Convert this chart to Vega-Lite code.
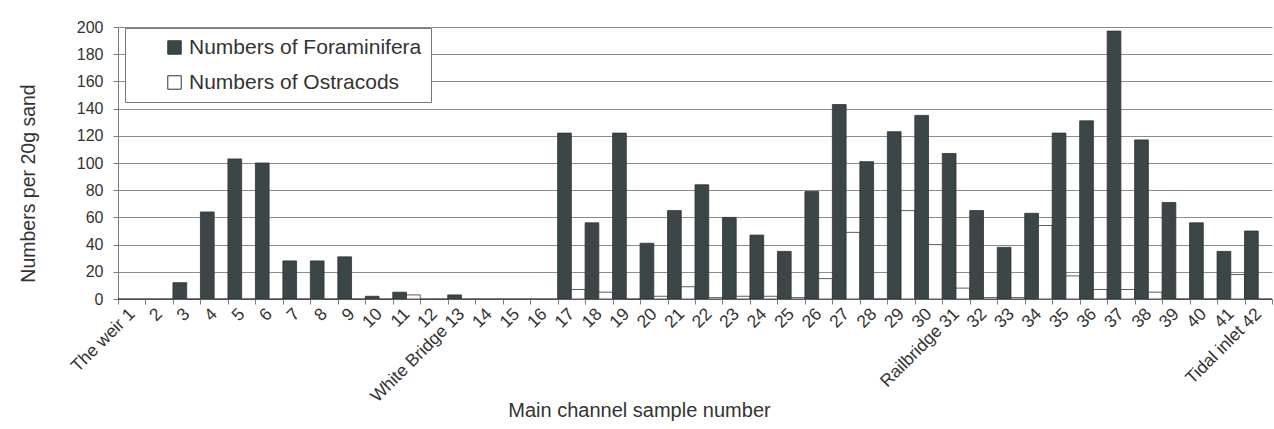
{
  "$schema": "https://vega.github.io/schema/vega-lite/v6.json",
  "autosize": "none",
  "width": 1154,
  "height": 272,
  "padding": {"left": 118, "top": 27, "right": 2, "bottom": 130},
  "background": "white",
  "config": {
    "font": "Liberation Sans",
    "view": {"stroke": null},
    "axis": {
      "labelFont": "Liberation Sans",
      "titleFont": "Liberation Sans",
      "labelColor": "#333333",
      "titleColor": "#333333",
      "titleFontWeight": "normal",
      "domainColor": "#7a7a7a",
      "tickColor": "#7a7a7a",
      "gridColor": "#8c8c8c"
    }
  },
  "data": {
    "values": [
      {"sample": "The weir 1", "Numbers of Foraminifera": 0, "Numbers of Ostracods": 0},
      {"sample": "2", "Numbers of Foraminifera": 0, "Numbers of Ostracods": 0},
      {"sample": "3", "Numbers of Foraminifera": 12, "Numbers of Ostracods": 0},
      {"sample": "4", "Numbers of Foraminifera": 64, "Numbers of Ostracods": 0},
      {"sample": "5", "Numbers of Foraminifera": 103, "Numbers of Ostracods": 0},
      {"sample": "6", "Numbers of Foraminifera": 100, "Numbers of Ostracods": 0},
      {"sample": "7", "Numbers of Foraminifera": 28, "Numbers of Ostracods": 0},
      {"sample": "8", "Numbers of Foraminifera": 28, "Numbers of Ostracods": 0},
      {"sample": "9", "Numbers of Foraminifera": 31, "Numbers of Ostracods": 0},
      {"sample": "10", "Numbers of Foraminifera": 2, "Numbers of Ostracods": 0},
      {"sample": "11", "Numbers of Foraminifera": 5, "Numbers of Ostracods": 3},
      {"sample": "12", "Numbers of Foraminifera": 0, "Numbers of Ostracods": 0},
      {"sample": "White Bridge 13", "Numbers of Foraminifera": 3, "Numbers of Ostracods": 0},
      {"sample": "14", "Numbers of Foraminifera": 0, "Numbers of Ostracods": 0},
      {"sample": "15", "Numbers of Foraminifera": 0, "Numbers of Ostracods": 0},
      {"sample": "16", "Numbers of Foraminifera": 0, "Numbers of Ostracods": 0},
      {"sample": "17", "Numbers of Foraminifera": 122, "Numbers of Ostracods": 7},
      {"sample": "18", "Numbers of Foraminifera": 56, "Numbers of Ostracods": 5},
      {"sample": "19", "Numbers of Foraminifera": 122, "Numbers of Ostracods": 0},
      {"sample": "20", "Numbers of Foraminifera": 41, "Numbers of Ostracods": 2},
      {"sample": "21", "Numbers of Foraminifera": 65, "Numbers of Ostracods": 9},
      {"sample": "22", "Numbers of Foraminifera": 84, "Numbers of Ostracods": 1},
      {"sample": "23", "Numbers of Foraminifera": 60, "Numbers of Ostracods": 2},
      {"sample": "24", "Numbers of Foraminifera": 47, "Numbers of Ostracods": 2},
      {"sample": "25", "Numbers of Foraminifera": 35, "Numbers of Ostracods": 1},
      {"sample": "26", "Numbers of Foraminifera": 79, "Numbers of Ostracods": 15},
      {"sample": "27", "Numbers of Foraminifera": 143, "Numbers of Ostracods": 49},
      {"sample": "28", "Numbers of Foraminifera": 101, "Numbers of Ostracods": 0},
      {"sample": "29", "Numbers of Foraminifera": 123, "Numbers of Ostracods": 65},
      {"sample": "30", "Numbers of Foraminifera": 135, "Numbers of Ostracods": 40},
      {"sample": "Railbridge 31", "Numbers of Foraminifera": 107, "Numbers of Ostracods": 8},
      {"sample": "32", "Numbers of Foraminifera": 65, "Numbers of Ostracods": 1},
      {"sample": "33", "Numbers of Foraminifera": 38, "Numbers of Ostracods": 1},
      {"sample": "34", "Numbers of Foraminifera": 63, "Numbers of Ostracods": 54},
      {"sample": "35", "Numbers of Foraminifera": 122, "Numbers of Ostracods": 17},
      {"sample": "36", "Numbers of Foraminifera": 131, "Numbers of Ostracods": 7},
      {"sample": "37", "Numbers of Foraminifera": 197, "Numbers of Ostracods": 7},
      {"sample": "38", "Numbers of Foraminifera": 117, "Numbers of Ostracods": 5},
      {"sample": "39", "Numbers of Foraminifera": 71, "Numbers of Ostracods": 0},
      {"sample": "40", "Numbers of Foraminifera": 56, "Numbers of Ostracods": 0},
      {"sample": "41", "Numbers of Foraminifera": 35, "Numbers of Ostracods": 18},
      {"sample": "Tidal inlet 42", "Numbers of Foraminifera": 50, "Numbers of Ostracods": 0}
    ]
  },
  "transform": [
    {"fold": ["Numbers of Foraminifera", "Numbers of Ostracods"], "as": ["series", "count"]}
  ],
  "mark": {"type": "bar", "stroke": "#333333", "strokeWidth": 0.8},
  "encoding": {
    "x": {
      "field": "sample",
      "type": "nominal",
      "sort": null,
      "scale": {"paddingInner": 0, "paddingOuter": 0},
      "axis": {
        "title": "Main channel sample number",
        "titleFontSize": 20,
        "titleX": 521,
        "titleY": 101,
        "labelAngle": -45,
        "labelAlign": "right",
        "labelBaseline": "middle",
        "labelFontSize": 17.5,
        "labelPadding": 7,
        "labelOverlap": false,
        "tickBand": "extent",
        "tickSize": 5,
        "grid": false
      }
    },
    "xOffset": {
      "field": "series",
      "sort": ["Numbers of Foraminifera", "Numbers of Ostracods"],
      "scale": {"paddingInner": 0, "paddingOuter": 0}
    },
    "y": {
      "field": "count",
      "type": "quantitative",
      "scale": {"domain": [0, 200], "nice": false},
      "axis": {
        "title": "Numbers per 20g sand",
        "titleFontSize": 19.5,
        "titleX": -80,
        "titleY": 156,
        "values": [0, 20, 40, 60, 80, 100, 120, 140, 160, 180, 200],
        "labelFontSize": 16,
        "labelPadding": 10,
        "tickSize": 5,
        "grid": true
      }
    },
    "fill": {
      "field": "series",
      "type": "nominal",
      "scale": {
        "domain": ["Numbers of Foraminifera", "Numbers of Ostracods"],
        "range": ["#3b4648", "#ffffff"]
      },
      "legend": {
        "title": null,
        "orient": "none",
        "legendX": 7,
        "legendY": 1,
        "direction": "vertical",
        "fillColor": "white",
        "strokeColor": "#777777",
        "padding": 9,
        "rowPadding": 13,
        "symbolType": "square",
        "symbolSize": 180,
        "symbolStrokeColor": "#333333",
        "symbolStrokeWidth": 1,
        "symbolOffset": 30,
        "labelOffset": 4,
        "labelFont": "Liberation Sans",
        "labelFontSize": 21,
        "labelColor": "#333333",
        "labelLimit": 400
      }
    }
  }
}
